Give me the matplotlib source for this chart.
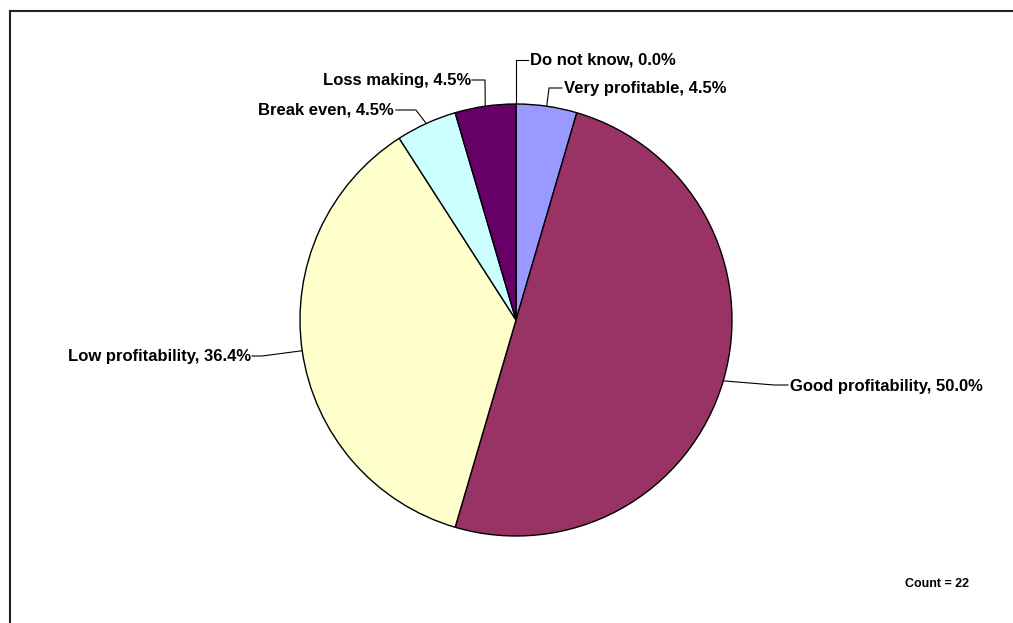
import numpy as np
import matplotlib.pyplot as plt
from matplotlib.lines import Line2D

categories = ['Very profitable', 'Good profitability', 'Low profitability',
              'Break even', 'Loss making', 'Do not know']
counts = [1, 11, 8, 1, 1, 0]
colors = ['#9999FF', '#993366', '#FFFFCC', '#CCFFFF', '#660066', '#FFFFFF']
total = 22

W, H = 1013, 623
cx, cy, r = 516, H - 320, 216

# label layout in pixel coords (y measured from top): elbow, line end, text anchor, ha
label_layout = {
    'Very profitable': ((549, 88), (562, 88), (564, 88), 'left'),
    'Good profitability': ((774, 385), (788, 385), (790, 386), 'left'),
    'Low profitability': ((262, 356), (252, 356), (251, 356), 'right'),
    'Break even': ((416, 110), (396, 110), (394, 110), 'right'),
    'Loss making': ((485, 80), (472, 80), (471, 80), 'right'),
    'Do not know': ((516, 60), (528, 60), (530, 60), 'left'),
}

plt.rcParams['font.family'] = ['Liberation Sans', 'DejaVu Sans']

fig = plt.figure(figsize=(W / 100, H / 100), dpi=100)
ax = fig.add_axes([0, 0, 1, 1])

vals = np.array(counts, dtype=float)
ax.pie(vals[vals > 0], colors=[c for c, v in zip(colors, vals) if v > 0],
       center=(cx, cy), radius=r, startangle=90, counterclock=False,
       wedgeprops=dict(edgecolor='black', linewidth=1.0))

# pie() resets the limits, so set them afterwards
ax.set_xlim(0, W)
ax.set_ylim(0, H)
ax.set_aspect('equal')
ax.axis('off')

# leader lines and labels
start = 90.0
for name, v in zip(categories, counts):
    span = 360.0 * v / total
    mid = np.deg2rad(start - span / 2)
    start -= span
    px, py = cx + r * np.cos(mid), cy + r * np.sin(mid)
    (ex, ey), (lx, ly), (tx, ty), ha = label_layout[name]
    ax.plot([px, ex, lx], [py, H - ey, H - ly], color='black', lw=0.8)
    ax.text(tx, H - ty, f'{name}, {100 * v / total:.1f}%', ha=ha, va='center',
            fontsize=12, fontweight='bold')

ax.text(905, H - 584, f'Count = {total}', ha='left', va='center',
        fontsize=9, fontweight='bold')

# frame (top and left edges visible)
fig.add_artist(Line2D([9.5 / W, 1], [1 - 10.5 / H, 1 - 10.5 / H],
                      color='#222222', lw=1.5, transform=fig.transFigure))
fig.add_artist(Line2D([9.5 / W, 9.5 / W], [0, 1 - 10.5 / H],
                      color='#222222', lw=1.5, transform=fig.transFigure))

fig.savefig('out.png', dpi=100, facecolor='white')
